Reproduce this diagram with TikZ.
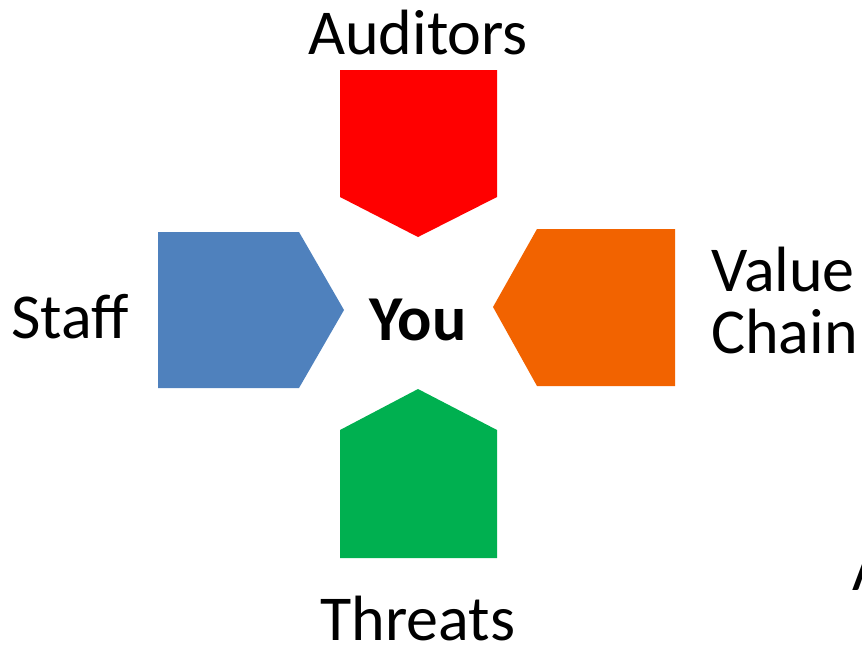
\documentclass[tikz,border=0pt]{standalone}
\usepackage{fontspec}
\setmainfont{Carlito}
\usepackage{xcolor}
\usepackage{tikz}
\usetikzlibrary{positioning}

\definecolor{auditred}{HTML}{FF0000}
\definecolor{staffblue}{HTML}{4F81BD}
\definecolor{chainorange}{HTML}{F26300}
\definecolor{threatgreen}{HTML}{00B050}

\begin{document}
\begin{tikzpicture}[
    x=0.75pt, y=-0.75pt,
    label/.style={inner sep=0pt, font=\fontsize{48}{58}\selectfont},
    chevron/.style={draw=none},
]
    \useasboundingbox (0,0) rectangle (862,644);
    \clip (0,0) rectangle (862,644);

    % Pentagon arrows pointing at the centre
    \fill[auditred, chevron] (340,70) -- (497,70) -- (497,197) -- (418,237) -- (340,197) -- cycle;
    \fill[staffblue, chevron] (158,232) -- (299,232) -- (344,310) -- (299,388) -- (158,388) -- cycle;
    \fill[chainorange, chevron] (675,229) -- (537,229) -- (493,307) -- (537,386) -- (675,386) -- cycle;
    \fill[threatgreen, chevron] (340,558) -- (497,558) -- (497,430) -- (418,389) -- (340,430) -- cycle;

    % Labels
    \node[label, anchor=base] (you) at (418,340) {\textbf{You}};
    \node[label, anchor=base] (auditors) at (418,54) {Auditors};
    \node[label, anchor=base] (staff) at (70,338) {Staff};
    \node[label, anchor=base west] (value) at (711,291) {Value};
    \node[label, anchor=base west] (chain) at (711,353) {Chain};
    \node[label, anchor=base] (threats) at (418,640) {Threats};
    \node[label, anchor=base west] (extra) at (852,590) {A};
\end{tikzpicture}
\end{document}
